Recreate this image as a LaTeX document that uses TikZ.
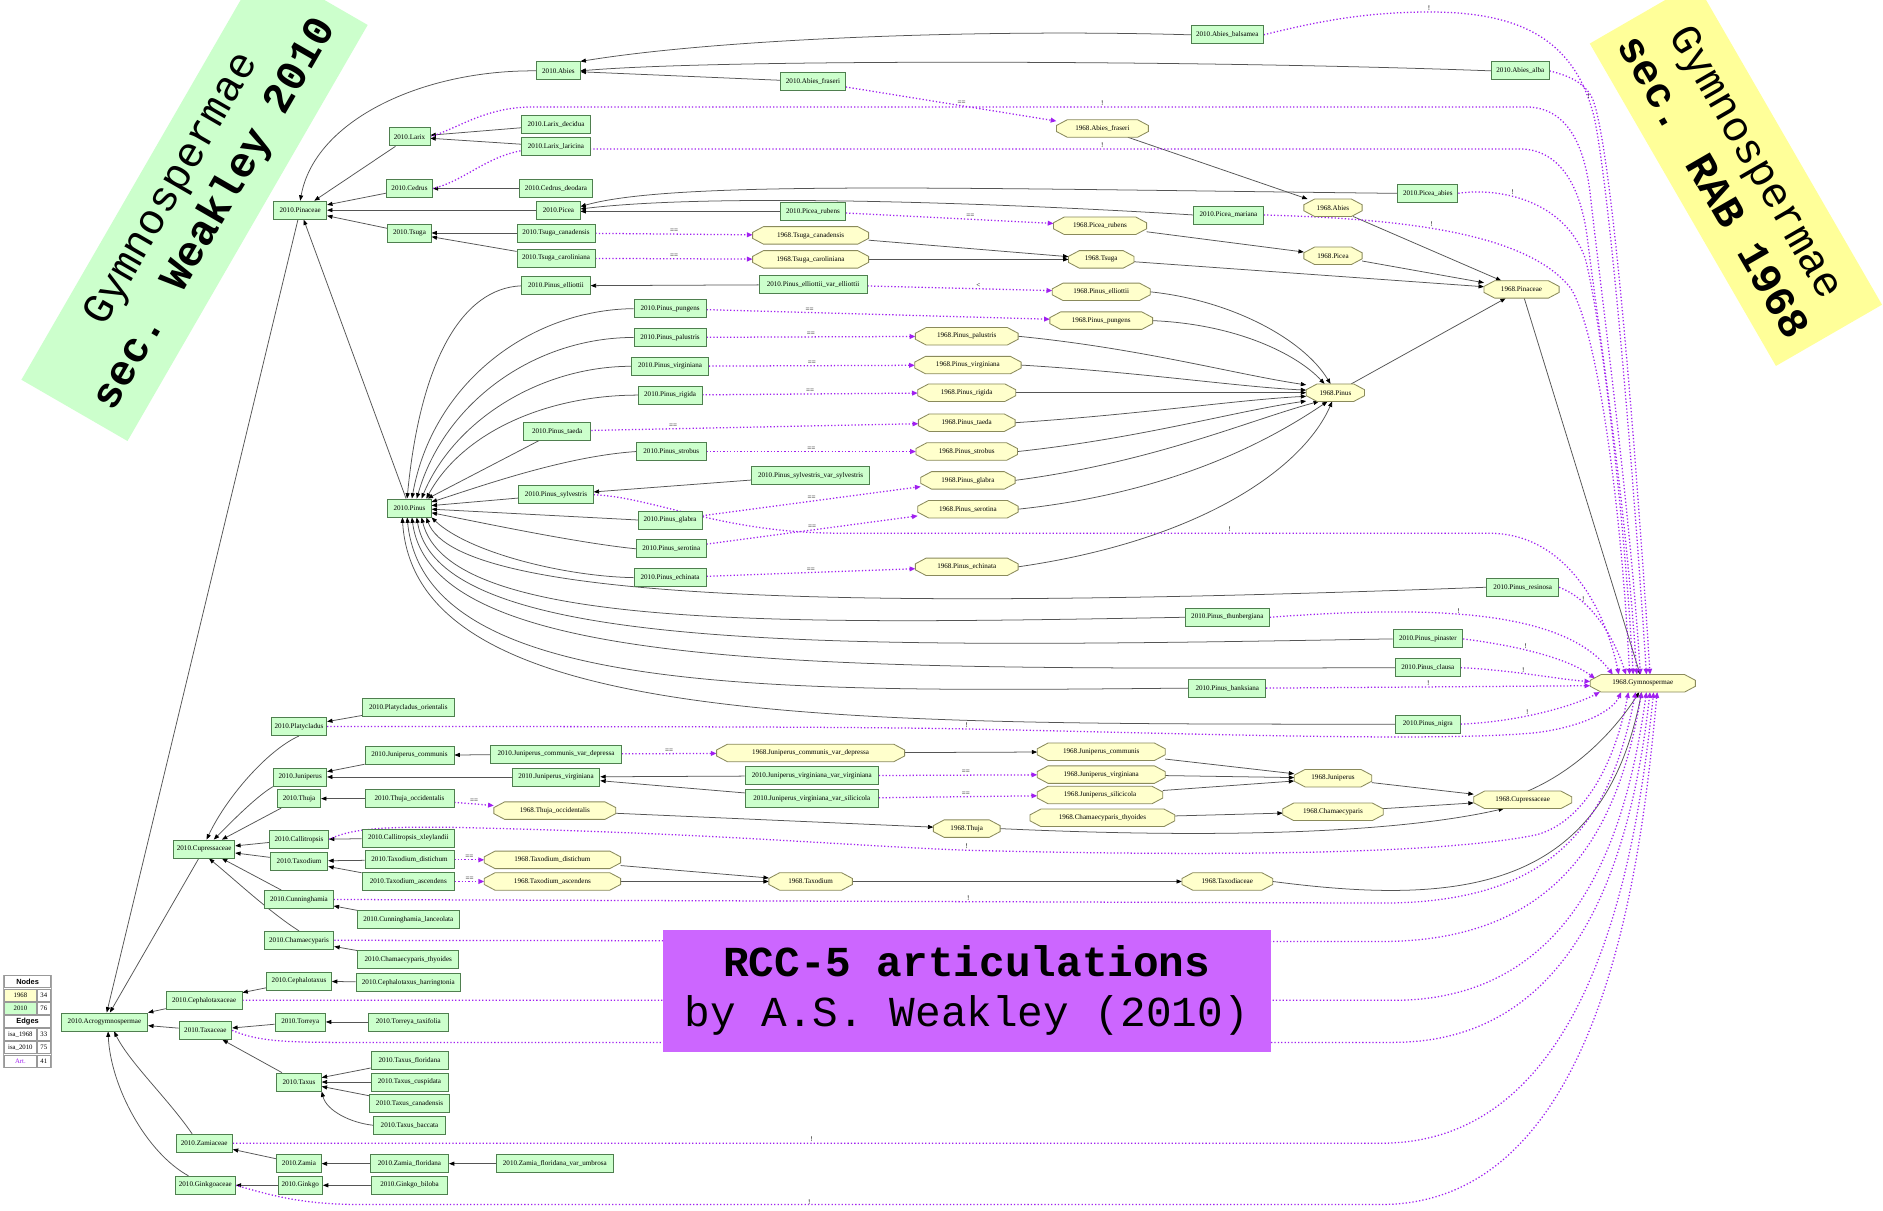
\documentclass[tikz,border=0pt]{standalone}
\usepackage{fontspec}
\setmainfont{Liberation Serif}
\newfontfamily\monofam{Liberation Mono}
\newfontfamily\sansfam{Liberation Sans}
\usetikzlibrary{arrows.meta,calc}

\definecolor{newfill}{HTML}{CCFFCC}
\definecolor{newline}{HTML}{4F7F4F}
\definecolor{oldfill}{HTML}{FFFFCC}
\definecolor{oldline}{HTML}{8A8A5C}
\definecolor{edgegray}{HTML}{555555}
\definecolor{artpurple}{HTML}{A020F0}
\definecolor{bannergreen}{HTML}{CCFFCC}
\definecolor{banneryellow}{HTML}{FFFF99}
\definecolor{titlepurple}{HTML}{CC66FF}

\newdimen\pxu \pxu=0.025cm
\newcommand\gnodefont{\fontsize{4.2}{5}\selectfont}
\newcommand\bigmono{\monofam\fontsize{25.3}{29.8}\selectfont}
\newcommand\lgfont{\fontsize{4}{5}\selectfont}
\newcommand\lghead{\sansfam\bfseries\fontsize{4.4}{5}\selectfont}

\pgfdeclarelayer{base}
\pgfdeclarelayer{edges}
\pgfdeclarelayer{bg}
\pgfsetlayers{base,edges,bg,main}

\tikzset{
  newbox/.style={rectangle, draw=newline, fill=newfill, line width=0.5pt, inner sep=0pt, minimum height=15\pxu, font=\gnodefont},
  oldbox/.style={rectangle, inner sep=0pt, minimum height=14\pxu, font=\gnodefont},
  octo/.style={draw=oldline, fill=oldfill, line width=0.5pt},
  isa/.style={draw=edgegray, line width=0.45pt, -{Triangle[length=3.2pt,width=2.4pt,color=black]}},
  art/.style={draw=artpurple, line width=0.75pt, dash pattern=on 0.75pt off 1.25pt, -{Triangle[length=3.4pt,width=2.8pt]}},
  lab/.style={font=\gnodefont, inner sep=0.4pt, text=black},
  lgcell/.style={draw=gray!80, inner sep=0pt, minimum height=10\pxu, font=\lgfont},
}

% taxon of the 2010 treatment: name, centre, width
\newcommand\NewN[3]{\node[newbox, minimum width=#3\pxu] (n-#1) at (#2) {2010.#1};}
% taxon of the 1968 treatment, drawn as an octagon
\newcommand\OldN[3]{%
  \node[oldbox, minimum width=#3\pxu] (o-#1) at (#2) {1968.#1};
  \begin{pgfonlayer}{bg}
    \draw[octo] ($(o-#1.north west)+(9,0)$) -- ($(o-#1.north east)+(-9,0)$)
      -- ($(o-#1.east)+(0,-2.5)$) -- ($(o-#1.east)+(0,2.5)$)
      -- ($(o-#1.south east)+(-9,0)$) -- ($(o-#1.south west)+(9,0)$)
      -- ($(o-#1.west)+(0,2.5)$) -- ($(o-#1.west)+(0,-2.5)$) -- cycle;
  \end{pgfonlayer}}

\begin{document}
\catcode`\_=12
\begin{tikzpicture}[x=0.025cm, y=-0.025cm]
\useasboundingbox (0,0) rectangle (1568,1008);
\begin{pgfonlayer}{base}
  \fill[white] (0,0) rectangle (1568,1008);
\end{pgfonlayer}

% ---------------- 2010: Pinaceae
\NewN{Abies_balsamea}{1022,29}{60}
\NewN{Abies}{465,59}{36}
\NewN{Abies_alba}{1266,59}{48}
\NewN{Abies_fraseri}{677,68}{54}
\NewN{Larix}{341,114}{34}
\NewN{Larix_decidua}{463,104}{57}
\NewN{Larix_laricina}{463,122}{57}
\NewN{Cedrus}{341,157}{38}
\NewN{Cedrus_deodara}{463,157}{61}
\NewN{Pinaceae}{250,175}{44}
\NewN{Picea}{465,175}{36}
\NewN{Picea_rubens}{677,176}{54}
\NewN{Picea_abies}{1189,161}{50}
\NewN{Picea_mariana}{1023,179}{58}
\NewN{Tsuga}{341,194}{36}
\NewN{Tsuga_canadensis}{463,194}{65}
\NewN{Tsuga_caroliniana}{463,215}{65}
\NewN{Pinus_elliottii}{463,238}{57}
\NewN{Pinus_elliottii_var_elliottii}{677,237}{90}
\NewN{Pinus_pungens}{558,257}{60}
\NewN{Pinus_palustris}{558,281}{60}
\NewN{Pinus_virginiana}{558,305}{64}
\NewN{Pinus_rigida}{558,329}{53}
\NewN{Pinus_taeda}{464,359}{56}
\NewN{Pinus_strobus}{559,376}{58}
\NewN{Pinus_sylvestris_var_sylvestris}{675,396}{98}
\NewN{Pinus_sylvestris}{463,412}{62}
\NewN{Pinus}{341,423}{36}
\NewN{Pinus_glabra}{558,433}{53}
\NewN{Pinus_serotina}{559,457}{58}
\NewN{Pinus_echinata}{558,481}{60}
\NewN{Pinus_resinosa}{1268,489}{60}
\NewN{Pinus_thunbergiana}{1022,514}{70}
\NewN{Pinus_pinaster}{1189,532}{58}
\NewN{Pinus_clausa}{1189,556}{54}
\NewN{Pinus_banksiana}{1022,573}{64}
\NewN{Pinus_nigra}{1189,603}{54}

% ---------------- 2010: Cupressaceae
\NewN{Platycladus_orientalis}{340,589}{76}
\NewN{Platycladus}{249,605}{46}
\NewN{Juniperus_communis}{341,629}{74}
\NewN{Juniperus_communis_var_depressa}{463,628}{109}
\NewN{Juniperus}{250,647}{44}
\NewN{Juniperus_virginiana}{463,647}{73}
\NewN{Juniperus_virginiana_var_virginiana}{676,646}{111}
\NewN{Thuja}{249,665}{36}
\NewN{Thuja_occidentalis}{341,665}{74}
\NewN{Juniperus_virginiana_var_silicicola}{676,665}{111}
\NewN{Callitropsis}{249,699}{49}
\NewN{Callitropsis_xleylandii}{340,698}{77}
\NewN{Cupressaceae}{170,707}{51}
\NewN{Taxodium}{249,717}{48}
\NewN{Taxodium_distichum}{341,716}{74}
\NewN{Taxodium_ascendens}{340,734}{77}
\NewN{Cunninghamia}{249,749}{57}
\NewN{Cunninghamia_lanceolata}{340,766}{85}
\NewN{Chamaecyparis}{249,783}{58}
\NewN{Chamaecyparis_thyoides}{340,799}{84}

% ---------------- 2010: other families
\NewN{Cephalotaxus}{249,817}{54}
\NewN{Cephalotaxus_harringtonia}{340,818}{87}
\NewN{Cephalotaxaceae}{170,833}{63}
\NewN{Acrogymnospermae}{87,851}{72}
\NewN{Taxaceae}{171,858}{44}
\NewN{Torreya}{250,851}{42}
\NewN{Torreya_taxifolia}{340,851}{67}
\NewN{Taxus_floridana}{341,883}{64}
\NewN{Taxus}{249,901}{37}
\NewN{Taxus_cuspidata}{341,901}{64}
\NewN{Taxus_canadensis}{341,919}{66}
\NewN{Taxus_baccata}{341,937}{60}
\NewN{Zamiaceae}{170,952}{47}
\NewN{Zamia}{249,969}{37}
\NewN{Zamia_floridana}{341,969}{65}
\NewN{Zamia_floridana_var_umbrosa}{462,969}{97}
\NewN{Ginkgoaceae}{171,987}{50}
\NewN{Ginkgo}{250,987}{37}
\NewN{Ginkgo_biloba}{341,987}{63}

% ---------------- 1968 taxa
\OldN{Abies_fraseri}{918,107}{76}
\OldN{Abies}{1110,173}{48}
\OldN{Picea_rubens}{916,188}{77}
\OldN{Tsuga_canadensis}{675,196}{96}
\OldN{Tsuga_caroliniana}{675,216}{96}
\OldN{Tsuga}{917,216}{54}
\OldN{Picea}{1110,213}{48}
\OldN{Pinaceae}{1267,241}{62}
\OldN{Pinus_elliottii}{917,243}{81}
\OldN{Pinus_pungens}{917,267}{85}
\OldN{Pinus_palustris}{805,280}{85}
\OldN{Pinus_virginiana}{806,304}{88}
\OldN{Pinus_rigida}{805,327}{81}
\OldN{Pinus}{1112,327}{48}
\OldN{Pinus_taeda}{805,352}{80}
\OldN{Pinus_strobus}{805,376}{84}
\OldN{Pinus_glabra}{806,400}{78}
\OldN{Pinus_serotina}{806,424}{83}
\OldN{Pinus_echinata}{805,472}{85}
\OldN{Gymnospermae}{1368,569}{87}
\OldN{Juniperus_communis_var_depressa}{675,627}{156}
\OldN{Juniperus_communis}{917,626}{106}
\OldN{Juniperus_virginiana}{917,645}{106}
\OldN{Juniperus}{1110,648}{64}
\OldN{Juniperus_silicicola}{916,662}{104}
\OldN{Thuja_occidentalis}{462,675}{101}
\OldN{Cupressaceae}{1268,666}{81}
\OldN{Chamaecyparis_thyoides}{918,681}{120}
\OldN{Chamaecyparis}{1110,676}{83}
\OldN{Thuja}{805,690}{55}
\OldN{Taxodium_distichum}{460,716}{113}
\OldN{Taxodium_ascendens}{460,734}{113}
\OldN{Taxodium}{675,734}{69}
\OldN{Taxodiaceae}{1022,734}{75}

\begin{pgfonlayer}{edges}
% ---------------- isa 2010
\draw[isa] (n-Abies_balsamea.west) .. controls (820,24) and (600,32) .. (n-Abies.north east);
\draw[isa] (n-Abies_alba.west) .. controls (1000,50) and (600,49) .. (n-Abies.east);
\draw[isa] (n-Abies_fraseri) -- (n-Abies);
\draw[isa] (n-Abies.west) .. controls (352,58) and (262,100) .. (n-Pinaceae.north);
\draw[isa] (n-Larix_decidua) -- (n-Larix);
\draw[isa] (n-Larix_laricina) -- (n-Larix);
\draw[isa] (n-Larix) -- (n-Pinaceae);
\draw[isa] (n-Cedrus_deodara) -- (n-Cedrus);
\draw[isa] (n-Cedrus) -- (n-Pinaceae);
\draw[isa] (n-Picea_abies.west) .. controls (800,157) and (560,150) .. ($(n-Picea.east)+(0,-3)$);
\draw[isa] (n-Picea_mariana.west) .. controls (850,170) and (600,160) .. ($(n-Picea.east)+(0,-1)$);
\draw[isa] (n-Picea_rubens) -- ($(n-Picea.east)+(0,1)$);
\draw[isa] (n-Picea) -- (n-Pinaceae);
\draw[isa] (n-Tsuga_canadensis) -- (n-Tsuga);
\draw[isa] (n-Tsuga_caroliniana) -- (n-Tsuga);
\draw[isa] (n-Tsuga) -- (n-Pinaceae);
\draw[isa] (n-Pinus) -- (n-Pinaceae);
\draw[isa] (n-Pinaceae) -- (n-Acrogymnospermae);

\draw[isa] (n-Pinus_elliottii_var_elliottii) -- (n-Pinus_elliottii);
\draw[isa] (n-Pinus_elliottii.west) .. controls (385,240) and (350,300) .. ($(n-Pinus.north)+(-2,0)$);
\draw[isa] (n-Pinus_pungens.west) .. controls (440,258) and (360,320) .. ($(n-Pinus.north)+(2,0)$);
\draw[isa] (n-Pinus_palustris.west) .. controls (445,281) and (370,335) .. ($(n-Pinus.north)+(6,0)$);
\draw[isa] (n-Pinus_virginiana.west) .. controls (450,305) and (378,350) .. ($(n-Pinus.north)+(10,0)$);
\draw[isa] (n-Pinus_rigida.west) .. controls (455,329) and (385,360) .. ($(n-Pinus.north)+(14,0)$);
\draw[isa] (n-Pinus_taeda) -- (n-Pinus);
\draw[isa] (n-Pinus_strobus.west) .. controls (470,380) and (400,405) .. ($(n-Pinus.east)+(0,-5)$);
\draw[isa] (n-Pinus_sylvestris_var_sylvestris) -- (n-Pinus_sylvestris);
\draw[isa] (n-Pinus_sylvestris) -- ($(n-Pinus.east)+(0,-2)$);
\draw[isa] (n-Pinus_glabra.west) -- ($(n-Pinus.east)+(0,1)$);
\draw[isa] (n-Pinus_serotina.west) .. controls (480,452) and (400,435) .. ($(n-Pinus.east)+(0,4)$);
\draw[isa] (n-Pinus_echinata.west) .. controls (470,480) and (390,460) .. (n-Pinus.south east);
\draw[isa] (n-Pinus_resinosa.west) .. controls (750,507) and (382,505) .. ($(n-Pinus.south)+(14,0)$);
\draw[isa] (n-Pinus_thunbergiana.west) .. controls (650,520) and (374,525) .. ($(n-Pinus.south)+(10,0)$);
\draw[isa] (n-Pinus_pinaster.west) .. controls (700,540) and (366,545) .. ($(n-Pinus.south)+(6,0)$);
\draw[isa] (n-Pinus_clausa.west) .. controls (700,557) and (360,562) .. ($(n-Pinus.south)+(2,0)$);
\draw[isa] (n-Pinus_banksiana.west) .. controls (650,576) and (354,582) .. ($(n-Pinus.south)+(-2,0)$);
\draw[isa] (n-Pinus_nigra.west) .. controls (700,603) and (346,606) .. ($(n-Pinus.south)+(-6,0)$);

\draw[isa] (n-Platycladus_orientalis) -- (n-Platycladus);
\draw[isa] (n-Platycladus.south) .. controls (222,625) and (188,665) .. ($(n-Cupressaceae.north)+(2,0)$);
\draw[isa] (n-Juniperus_communis_var_depressa) -- (n-Juniperus_communis);
\draw[isa] (n-Juniperus_communis) -- (n-Juniperus);
\draw[isa] (n-Juniperus_virginiana_var_virginiana) -- (n-Juniperus_virginiana);
\draw[isa] (n-Juniperus_virginiana_var_silicicola) -- (n-Juniperus_virginiana);
\draw[isa] (n-Juniperus_virginiana) -- (n-Juniperus);
\draw[isa] (n-Juniperus.south west) .. controls (215,662) and (195,682) .. ($(n-Cupressaceae.north)+(8,0)$);
\draw[isa] (n-Thuja_occidentalis) -- (n-Thuja);
\draw[isa] (n-Thuja) -- (n-Cupressaceae);
\draw[isa] (n-Callitropsis_xleylandii) -- (n-Callitropsis);
\draw[isa] (n-Callitropsis) -- (n-Cupressaceae);
\draw[isa] (n-Taxodium_distichum) -- (n-Taxodium);
\draw[isa] (n-Taxodium_ascendens) -- (n-Taxodium);
\draw[isa] (n-Taxodium) -- (n-Cupressaceae);
\draw[isa] (n-Cunninghamia_lanceolata) -- (n-Cunninghamia);
\draw[isa] (n-Cunninghamia) -- (n-Cupressaceae);
\draw[isa] (n-Chamaecyparis_thyoides) -- (n-Chamaecyparis);
\draw[isa] (n-Chamaecyparis.north) .. controls (225,760) and (195,732) .. ($(n-Cupressaceae.south)+(4,0)$);
\draw[isa] (n-Cupressaceae) -- (n-Acrogymnospermae);

\draw[isa] (n-Cephalotaxus_harringtonia) -- (n-Cephalotaxus);
\draw[isa] (n-Cephalotaxus) -- (n-Cephalotaxaceae);
\draw[isa] (n-Cephalotaxaceae) -- (n-Acrogymnospermae);
\draw[isa] (n-Torreya_taxifolia) -- (n-Torreya);
\draw[isa] (n-Torreya) -- (n-Taxaceae);
\draw[isa] (n-Taxus_floridana) -- (n-Taxus);
\draw[isa] (n-Taxus_cuspidata) -- (n-Taxus);
\draw[isa] (n-Taxus_canadensis) -- (n-Taxus);
\draw[isa] (n-Taxus_baccata.west) .. controls (292,935) and (272,925) .. (n-Taxus.south east);
\draw[isa] (n-Taxus) -- (n-Taxaceae);
\draw[isa] (n-Taxaceae) -- (n-Acrogymnospermae);
\draw[isa] (n-Zamia_floridana_var_umbrosa) -- (n-Zamia_floridana);
\draw[isa] (n-Zamia_floridana) -- (n-Zamia);
\draw[isa] (n-Zamia) -- (n-Zamiaceae);
\draw[isa] ($(n-Zamiaceae.north)+(-10,0)$) .. controls (140,915) and (108,885) .. ($(n-Acrogymnospermae.south)+(8,0)$);
\draw[isa] (n-Ginkgo_biloba) -- (n-Ginkgo);
\draw[isa] (n-Ginkgo) -- (n-Ginkgoaceae);
\draw[isa] ($(n-Ginkgoaceae.north)+(-14,0)$) .. controls (122,960) and (92,905) .. ($(n-Acrogymnospermae.south)+(3,0)$);

% ---------------- isa 1968
\draw[isa] (o-Abies_fraseri) -- (o-Abies);
\draw[isa] (o-Abies) -- (o-Pinaceae);
\draw[isa] (o-Picea_rubens) -- (o-Picea);
\draw[isa] (o-Picea) -- (o-Pinaceae);
\draw[isa] (o-Tsuga_canadensis) -- (o-Tsuga);
\draw[isa] (o-Tsuga_caroliniana) -- (o-Tsuga);
\draw[isa] (o-Tsuga) -- (o-Pinaceae);
\draw[isa] (o-Pinus) -- (o-Pinaceae);
\draw[isa] (o-Pinaceae) -- (o-Gymnospermae);
\draw[isa] (o-Pinus_elliottii.east) .. controls (1025,250) and (1085,282) .. ($(o-Pinus.north)+(-4,0)$);
\draw[isa] (o-Pinus_pungens.east) .. controls (1030,270) and (1080,295) .. ($(o-Pinus.north)+(-9,0)$);
\draw[isa] (o-Pinus_palustris.east) .. controls (950,290) and (1030,312) .. (o-Pinus.165);
\draw[isa] (o-Pinus_virginiana.east) .. controls (950,310) and (1030,322) .. (o-Pinus.175);
\draw[isa] (o-Pinus_rigida) -- (o-Pinus);
\draw[isa] (o-Pinus_taeda.east) .. controls (950,345) and (1030,333) .. (o-Pinus.187);
\draw[isa] (o-Pinus_strobus.east) .. controls (950,365) and (1030,342) .. (o-Pinus.196);
\draw[isa] (o-Pinus_glabra.east) .. controls (960,385) and (1040,350) .. (o-Pinus.208);
\draw[isa] (o-Pinus_serotina.east) .. controls (980,410) and (1060,365) .. (o-Pinus.228);
\draw[isa] (o-Pinus_echinata.east) .. controls (1000,450) and (1085,390) .. (o-Pinus.250);
\draw[isa] (o-Juniperus_communis_var_depressa) -- (o-Juniperus_communis);
\draw[isa] (o-Juniperus_communis) -- (o-Juniperus);
\draw[isa] (o-Juniperus_virginiana) -- (o-Juniperus);
\draw[isa] (o-Juniperus_silicicola) -- (o-Juniperus);
\draw[isa] (o-Juniperus) -- (o-Cupressaceae);
\draw[isa] (o-Chamaecyparis_thyoides) -- (o-Chamaecyparis);
\draw[isa] (o-Chamaecyparis) -- (o-Cupressaceae);
\draw[isa] (o-Thuja_occidentalis) -- (o-Thuja);
\draw[isa] (o-Thuja.east) .. controls (1050,700) and (1180,690) .. (o-Cupressaceae.205);
\draw[isa] (o-Cupressaceae.60) .. controls (1320,638) and (1350,600) .. ($(o-Gymnospermae.south)+(-3,0)$);
\draw[isa] (o-Taxodium_distichum) -- (o-Taxodium);
\draw[isa] (o-Taxodium_ascendens) -- (o-Taxodium);
\draw[isa] (o-Taxodium) -- (o-Taxodiaceae);
\draw[isa] (o-Taxodiaceae.east) .. controls (1220,755) and (1335,740) .. ($(o-Gymnospermae.south)+(-1,0)$);

% ---------------- articulations: congruence and inclusion
\draw[art] (n-Abies_fraseri) -- node[lab,above,pos=.55]{==} (o-Abies_fraseri);
\draw[art] (n-Picea_rubens) -- node[lab,above,pos=.6]{==} (o-Picea_rubens);
\draw[art] (n-Tsuga_canadensis) -- node[lab,above]{==} (o-Tsuga_canadensis);
\draw[art] (n-Tsuga_caroliniana) -- node[lab,above]{==} (o-Tsuga_caroliniana);
\draw[art] (n-Pinus_elliottii_var_elliottii) -- node[lab,above,pos=.6]{<} (o-Pinus_elliottii);
\draw[art] (n-Pinus_pungens) -- node[lab,above,pos=.3]{==} (o-Pinus_pungens);
\draw[art] (n-Pinus_palustris) -- node[lab,above]{==} (o-Pinus_palustris);
\draw[art] (n-Pinus_virginiana) -- node[lab,above]{==} (o-Pinus_virginiana);
\draw[art] (n-Pinus_rigida) -- node[lab,above]{==} (o-Pinus_rigida);
\draw[art] (n-Pinus_taeda) -- node[lab,above,pos=.25]{==} (o-Pinus_taeda);
\draw[art] (n-Pinus_strobus) -- node[lab,above]{==} (o-Pinus_strobus);
\draw[art] (n-Pinus_glabra) -- node[lab,above]{==} (o-Pinus_glabra);
\draw[art] (n-Pinus_serotina) -- node[lab,above]{==} (o-Pinus_serotina);
\draw[art] (n-Pinus_echinata) -- node[lab,above]{==} (o-Pinus_echinata);
\draw[art] (n-Juniperus_communis_var_depressa) -- node[lab,above]{==} (o-Juniperus_communis_var_depressa);
\draw[art] (n-Juniperus_virginiana_var_virginiana) -- node[lab,above,pos=.55]{==} (o-Juniperus_virginiana);
\draw[art] (n-Juniperus_virginiana_var_silicicola) -- node[lab,above,pos=.55]{==} (o-Juniperus_silicicola);
\draw[art] (n-Thuja_occidentalis) -- node[lab,above]{==} (o-Thuja_occidentalis);
\draw[art] (n-Taxodium_distichum) -- node[lab,above]{==} (o-Taxodium_distichum);
\draw[art] (n-Taxodium_ascendens) -- node[lab,above]{==} (o-Taxodium_ascendens);

% ---------------- articulations: disjoint from 1968.Gymnospermae
\draw[art] (n-Abies_balsamea.east) .. controls (1100,17) and (1140,10) .. (1190,10) node[lab,above]{!}
  .. controls (1262,10) and (1312,30) .. (1328,100) .. controls (1342,170) and (1362,420) .. ($(o-Gymnospermae.north)+(3,0)$);
\draw[art] (n-Abies_alba.east) .. controls (1306,63) and (1318,68) .. (1325,80) node[lab,left]{!}
  .. controls (1342,110) and (1364,400) .. ($(o-Gymnospermae.north)+(6,0)$);
\draw[art] (n-Larix.east) .. controls (385,105) and (405,89) .. (445,89) -- (918,89) node[lab,above]{!} -- (1270,89)
  .. controls (1300,89) and (1318,112) .. (1324,160) .. controls (1334,250) and (1357,420) .. ($(o-Gymnospermae.north)+(-2,0)$);
\draw[art] (n-Cedrus.east) .. controls (390,150) and (410,124) .. (450,124) -- (918,124) node[lab,above]{!} -- (1265,124)
  .. controls (1296,124) and (1316,150) .. (1322,200) .. controls (1332,280) and (1354,420) .. ($(o-Gymnospermae.north)+(-5,0)$);
\draw[art] (n-Picea_abies.east) .. controls (1245,156) and (1302,165) .. node[lab,above,pos=.4]{!} (1320,215)
  .. controls (1332,260) and (1352,420) .. ($(o-Gymnospermae.north)+(-8,0)$);
\draw[art] (n-Picea_mariana.east) .. controls (1160,182) and (1270,192) .. node[lab,above,pos=.45]{!} (1308,240)
  .. controls (1330,275) and (1350,420) .. ($(o-Gymnospermae.north)+(-11,0)$);
\draw[art] (n-Pinus_sylvestris.east) .. controls (545,414) and (600,444) .. (700,444) -- node[lab,above,pos=.6]{!} (1240,444)
  .. controls (1300,444) and (1335,500) .. ($(o-Gymnospermae.north)+(-20,0)$);
\draw[art] (n-Pinus_resinosa.east) .. controls (1322,498) and (1342,525) .. node[lab,above,pos=.3]{!} ($(o-Gymnospermae.north)+(-14,0)$);
\draw[art] (n-Pinus_thunbergiana.east) .. controls (1180,505) and (1300,505) .. node[lab,above,pos=.45]{!} ($(o-Gymnospermae.north)+(-25,0)$);
\draw[art] (n-Pinus_pinaster.east) .. controls (1265,538) and (1305,548) .. node[lab,above,pos=.4]{!} ($(o-Gymnospermae.west)+(4,-4)$);
\draw[art] (n-Pinus_clausa.east) .. controls (1260,558) and (1300,566) .. node[lab,above,pos=.42]{!} ($(o-Gymnospermae.west)+(0,-1.5)$);
\draw[art] (n-Pinus_banksiana.east) -- node[lab,above,pos=.5]{!} ($(o-Gymnospermae.west)+(0,2)$);
\draw[art] (n-Pinus_nigra.east) .. controls (1265,601) and (1310,588) .. node[lab,above,pos=.4]{!} ($(o-Gymnospermae.south west)+(8,0)$);
\draw[art] (n-Platycladus.east) .. controls (500,605) and (700,605) .. (805,607) node[lab,above]{!}
  .. controls (1000,611) and (1200,618) .. (1280,610) .. controls (1318,605) and (1343,592) .. ($(o-Gymnospermae.south)+(-18,0)$);
\draw[art] (n-Callitropsis.east) .. controls (292,690) and (320,688) .. (380,689) .. controls (600,694) and (700,704) .. (805,708) node[lab,above]{!}
  .. controls (1000,713) and (1200,712) .. (1280,695) .. controls (1322,683) and (1346,630) .. ($(o-Gymnospermae.south)+(-12,0)$);
\draw[art] (n-Cunninghamia.east) -- node[lab,above,pos=.606]{!} (1150,752) .. controls (1290,752) and (1340,690) .. ($(o-Gymnospermae.south)+(-6,0)$);
\draw[art] (n-Chamaecyparis.east) -- (1150,784) .. controls (1300,784) and (1348,690) .. ($(o-Gymnospermae.south)+(-1,0)$);
\draw[art] (n-Cephalotaxaceae.east) -- (1160,833) .. controls (1310,833) and (1354,700) .. ($(o-Gymnospermae.south)+(3,0)$);
\draw[art] (n-Taxaceae.east) .. controls (212,866) and (232,868) .. (280,868) -- (1160,868) .. controls (1320,868) and (1360,700) .. ($(o-Gymnospermae.south)+(6,0)$);
\draw[art] (n-Zamiaceae.east) -- node[lab,above,pos=.504]{!} (1150,952) .. controls (1330,952) and (1364,700) .. ($(o-Gymnospermae.south)+(9,0)$);
\draw[art] (n-Ginkgoaceae.east) .. controls (225,995) and (250,1003) .. (300,1003) -- node[lab,above=-1pt,pos=.44]{!} (1150,1003)
  .. controls (1340,1003) and (1368,700) .. ($(o-Gymnospermae.south)+(12,0)$);
\end{pgfonlayer}

% ---------------- legend
\node[draw=gray!70, minimum width=40\pxu, minimum height=77\pxu, inner sep=0pt] (legend) at (23,850.5) {};
\node[lgcell, minimum width=38\pxu, font=\lghead] (lg-nodes) at (23,817.5) {Nodes};
\node[lgcell, fill=oldfill, minimum width=26\pxu] (lg-old) at (17,828.5) {1968};
\node[lgcell, minimum width=11\pxu] (lg-oldn) at (36.5,828.5) {34};
\node[lgcell, fill=newfill, minimum width=26\pxu] (lg-new) at (17,839.5) {2010};
\node[lgcell, minimum width=11\pxu] (lg-newn) at (36.5,839.5) {76};
\node[lgcell, minimum width=38\pxu, font=\lghead] (lg-edges) at (23,850.5) {Edges};
\node[lgcell, minimum width=26\pxu] (lg-isaold) at (17,861.5) {isa_1968};
\node[lgcell, minimum width=11\pxu] (lg-isaoldn) at (36.5,861.5) {33};
\node[lgcell, minimum width=26\pxu] (lg-isanew) at (17,872.5) {isa_2010};
\node[lgcell, minimum width=11\pxu] (lg-isanewn) at (36.5,872.5) {75};
\node[lgcell, minimum width=26\pxu, text=artpurple] (lg-art) at (17,883.5) {Art.};
\node[lgcell, minimum width=11\pxu] (lg-artn) at (36.5,883.5) {41};

% ---------------- title and the two section banners
\node[fill=titlepurple, minimum width=506\pxu, minimum height=102\pxu, align=center, font=\bigmono, inner sep=0pt]
  (title) at (805,825) {\textbf{RCC-5 articulations}\\by A.S. Weakley (2010)};
\node[fill=bannergreen, rotate=60, minimum width=400\pxu, minimum height=102\pxu, align=center, font=\bigmono, inner sep=0pt]
  (banner-new) at (162,168.5) {Gymnospermae\\\textbf{sec. Weakley 2010}};
\node[fill=banneryellow, rotate=-60, minimum width=310\pxu, minimum height=102\pxu, align=center, font=\bigmono, inner sep=0pt]
  (banner-old) at (1445.5,145) {Gymnospermae\\\textbf{sec. RAB 1968}};
\end{tikzpicture}
\end{document}
